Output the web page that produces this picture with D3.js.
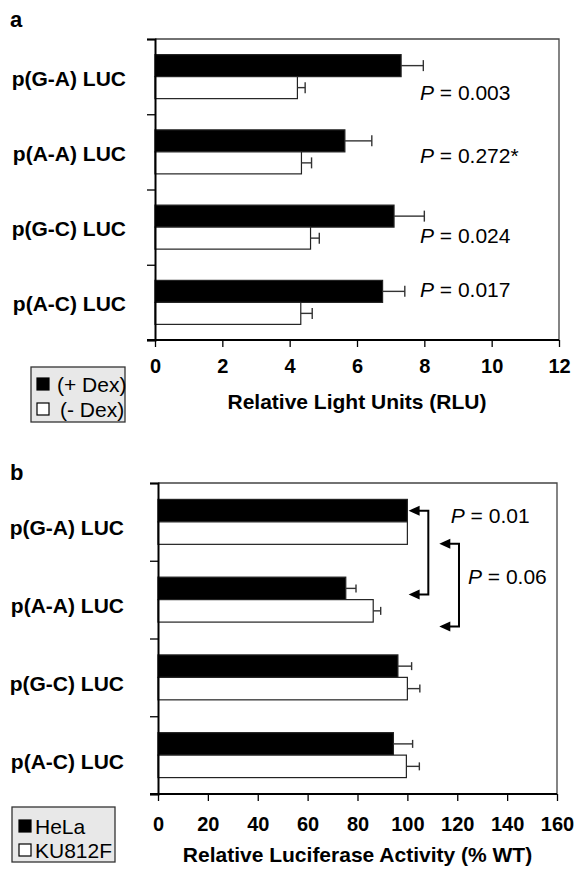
<!DOCTYPE html>
<html>
<head>
<meta charset="utf-8">
<script src="https://cdn.jsdelivr.net/npm/d3@7"></script>
<style>
body { margin: 0; background: #fff; }
text { font-family: "Liberation Sans", Arial, Helvetica, sans-serif; }
</style>
</head>
<body>
<div id="chart"></div>
<script>
// categories shared by both panels
var categories = ["p(G-A) LUC", "p(A-A) LUC", "p(G-C) LUC", "p(A-C) LUC"];

// panel a: relative light units with / without dexamethasone
var dexPlus = [7.31, 5.64, 7.10, 6.76];
var dexPlusErr = [0.66, 0.80, 0.90, 0.66];
var dexMinus = [4.23, 4.35, 4.62, 4.33];
var dexMinusErr = [0.23, 0.30, 0.26, 0.34];
var pValuesA = ["0.003", "0.272*", "0.024", "0.017"];
var ticksA = [0, 2, 4, 6, 8, 10, 12];
var legendA = ["(+ Dex)", "(- Dex)"];

// panel b: relative luciferase activity (% WT) in two cell lines
var hela = [100, 75.3, 96.2, 94.4];
var helaErr = [0, 4.1, 5.5, 7.7];
var ku812f = [100, 86.3, 100, 99.6];
var ku812fErr = [0, 3.0, 5.0, 5.2];
var pValuesB = ["0.01", "0.06"];
var ticksB = [0, 20, 40, 60, 80, 100, 120, 140, 160];
var legendB = ["HeLa", "KU812F"];

var svg = d3.select("#chart").append("svg")
    .attr("width", 579)
    .attr("height", 874);

function drawPanel(cfg) {
    var g = svg.append("g");

    var x = d3.scaleLinear().domain(cfg.domain).range([cfg.left, cfg.right]);
    var yBand = d3.scaleBand().domain(categories).range([cfg.top, cfg.bottom]).paddingInner(0).paddingOuter(0);
    var yLin = d3.scaleLinear().domain([0, categories.length]).range([cfg.top, cfg.bottom]);
    var inner = d3.scaleBand().domain(["s0", "s1"]).range([0, yBand.bandwidth()]).paddingInner(0).paddingOuter(cfg.outerPad);

    // rows for bars
    var rows = [];
    categories.forEach(function(c, i) {
        cfg.series.forEach(function(s, k) {
            rows.push({cat: c, key: "s" + k, v: s.values[i], e: s.errs[i], fill: s.fill});
        });
    });

    // frame: top and right
    g.append("path")
        .attr("d", "M" + cfg.left + "," + cfg.top + "H" + cfg.right + "V" + cfg.bottom)
        .attr("fill", "none")
        .attr("stroke", "#444")
        .attr("stroke-width", 1.3);

    // bars
    g.selectAll("rect.bar")
        .data(rows)
        .enter()
        .append("rect")
        .attr("class", "bar")
        .attr("x", x(0))
        .attr("y", function(d) { return yBand(d.cat) + inner(d.key); })
        .attr("width", function(d) { return x(d.v) - x(0); })
        .attr("height", inner.bandwidth())
        .attr("fill", function(d) { return d.fill; })
        .attr("stroke", "#222")
        .attr("stroke-width", 1.2);

    // error bars
    var errs = g.selectAll("g.err")
        .data(rows.filter(function(d) { return d.e > 0; }))
        .enter()
        .append("g")
        .attr("class", "err")
        .attr("stroke", "#333")
        .attr("stroke-width", 1.4);
    errs.append("line")
        .attr("x1", function(d) { return x(d.v); })
        .attr("x2", function(d) { return x(d.v + d.e); })
        .attr("y1", function(d) { return yBand(d.cat) + inner(d.key) + inner.bandwidth() / 2; })
        .attr("y2", function(d) { return yBand(d.cat) + inner(d.key) + inner.bandwidth() / 2; });
    errs.append("line")
        .attr("x1", function(d) { return x(d.v + d.e); })
        .attr("x2", function(d) { return x(d.v + d.e); })
        .attr("y1", function(d) { return yBand(d.cat) + inner(d.key) + inner.bandwidth() / 2 - cfg.cap; })
        .attr("y2", function(d) { return yBand(d.cat) + inner(d.key) + inner.bandwidth() / 2 + cfg.cap; });

    // left axis with ticks at band boundaries
    var yAxis = g.append("g")
        .attr("transform", "translate(" + cfg.left + ",0)")
        .call(d3.axisLeft(yLin).tickValues(d3.range(categories.length + 1)).tickSize(8).tickFormat(""));
    yAxis.select(".domain").attr("stroke", "#000").attr("stroke-width", 2);
    yAxis.selectAll(".tick line").attr("stroke", "#000").attr("stroke-width", 1.3);

    // category labels
    g.selectAll("text.cat")
        .data(categories)
        .enter()
        .append("text")
        .attr("class", "cat")
        .attr("x", cfg.labelX)
        .attr("y", function(d) { return yBand(d) + yBand.bandwidth() / 2 + cfg.labelDy; })
        .attr("text-anchor", "end")
        .attr("dominant-baseline", "central")
        .style("font-size", "21px")
        .style("font-weight", "bold")
        .text(function(d) { return d; });

    // bottom axis
    var xAxis = g.append("g")
        .attr("transform", "translate(0," + cfg.bottom + ")")
        .call(d3.axisBottom(x).tickValues(cfg.ticks).tickSize(7).tickPadding(cfg.tickPad).tickSizeOuter(0));
    xAxis.select(".domain").attr("stroke", "#000").attr("stroke-width", 2)
        .attr("d", "M" + (cfg.left - 8) + ",0H" + cfg.right);
    xAxis.selectAll(".tick line").attr("stroke", "#000").attr("stroke-width", 1.3);
    xAxis.selectAll(".tick text")
        .style("font-family", "'Liberation Sans', Arial, Helvetica, sans-serif")
        .style("font-size", "20px")
        .style("font-weight", "bold")
        .attr("fill", "#000");

    // axis title
    g.append("text")
        .attr("x", (cfg.left + cfg.right) / 2)
        .attr("y", cfg.titleY)
        .attr("text-anchor", "middle")
        .style("font-size", "21px")
        .style("font-weight", "bold")
        .text(cfg.title);

    // panel letter
    g.append("text")
        .attr("x", 10)
        .attr("y", cfg.letterY)
        .style("font-size", "22px")
        .style("font-weight", "bold")
        .text(cfg.letter);

    // legend
    var lg = cfg.legend;
    g.append("rect")
        .attr("x", lg.x)
        .attr("y", lg.y)
        .attr("width", lg.w)
        .attr("height", lg.h)
        .attr("fill", "#e8e8e8")
        .attr("stroke", "#333")
        .attr("stroke-width", 1.3);
    g.selectAll("rect.sw")
        .data(lg.labels)
        .enter()
        .append("rect")
        .attr("class", "sw")
        .attr("x", lg.swX)
        .attr("y", function(d, i) { return lg.rowY[i] - 6; })
        .attr("width", 12)
        .attr("height", 12)
        .attr("fill", function(d, i) { return cfg.series[i].fill; })
        .attr("stroke", "#000")
        .attr("stroke-width", 1.2);
    g.selectAll("text.leg")
        .data(lg.labels)
        .enter()
        .append("text")
        .attr("class", "leg")
        .attr("x", function(d, i) { return lg.textX[i]; })
        .attr("y", function(d, i) { return lg.rowY[i]; })
        .attr("dominant-baseline", "central")
        .style("font-size", "21px")
        .text(function(d) { return d; });

    // p-value labels
    g.selectAll("text.pval")
        .data(cfg.pLabels)
        .enter()
        .append("text")
        .attr("class", "pval")
        .attr("x", function(d) { return x(d.x); })
        .attr("y", function(d) { return yLin(d.y); })
        .style("font-size", "21px")
        .each(function(d) {
            var t = d3.select(this);
            t.append("tspan").style("font-style", "italic").text("P");
            t.append("tspan").text(" = " + d.text);
        });

    // comparison brackets
    (cfg.brackets || []).forEach(function(b) {
        var yA = yBand(categories[b.from[0]]) + inner(b.from[1]) + inner.bandwidth() * b.from[2];
        var yB = yBand(categories[b.to[0]]) + inner(b.to[1]) + inner.bandwidth() * b.to[2];
        var xt = x(b.tip), xv = x(b.bar);
        g.append("path")
            .attr("d", "M" + (xt + 10) + "," + yA + "H" + xv + "V" + yB + "H" + (xt + 10))
            .attr("fill", "none")
            .attr("stroke", "#000")
            .attr("stroke-width", 2);
        [yA, yB].forEach(function(yy) {
            g.append("path")
                .attr("d", "M" + xt + "," + yy + "l11,-5v10z")
                .attr("fill", "#000");
        });
    });
}

drawPanel({
    letter: "a", letterY: 27,
    left: 155, right: 559, top: 39, bottom: 340,
    domain: [0, 12], ticks: ticksA, tickPad: 12,
    outerPad: 0.71, cap: 5.5,
    labelX: 126, labelDy: 1.5,
    title: "Relative Light Units (RLU)", titleY: 409,
    series: [
        {values: dexPlus, errs: dexPlusErr, fill: "#000"},
        {values: dexMinus, errs: dexMinusErr, fill: "#fff"}
    ],
    pLabels: pValuesA.map(function(p, i) {
        return {text: p, x: 7.87, y: [0.81, 1.65, 2.71, 3.43][i]};
    }),
    legend: {x: 31, y: 367, w: 94, h: 55, swX: 37, textX: [57, 60], rowY: [384, 409], labels: legendA}
});

drawPanel({
    letter: "b", letterY: 480,
    left: 158, right: 557, top: 483, bottom: 794,
    domain: [0, 160], ticks: ticksB, tickPad: 16,
    outerPad: 0.73, cap: 4,
    labelX: 124, labelDy: 6,
    title: "Relative Luciferase Activity (% WT)", titleY: 862,
    series: [
        {values: hela, errs: helaErr, fill: "#000"},
        {values: ku812f, errs: ku812fErr, fill: "#fff"}
    ],
    pLabels: [
        {text: pValuesB[0], x: 117.4, y: 0.514},
        {text: pValuesB[1], x: 124.3, y: 1.30}
    ],
    brackets: [
        {from: [0, "s0", 0.5], to: [1, "s0", 0.77], tip: 100.5, bar: 108.4},
        {from: [0, "s1", 0.97], to: [1, "s1", 1.2], tip: 112.8, bar: 120.7}
    ],
    legend: {x: 12, y: 807, w: 103, h: 55, swX: 19, textX: [35, 35], rowY: [826, 850], labels: legendB}
});
</script>
</body>
</html>
